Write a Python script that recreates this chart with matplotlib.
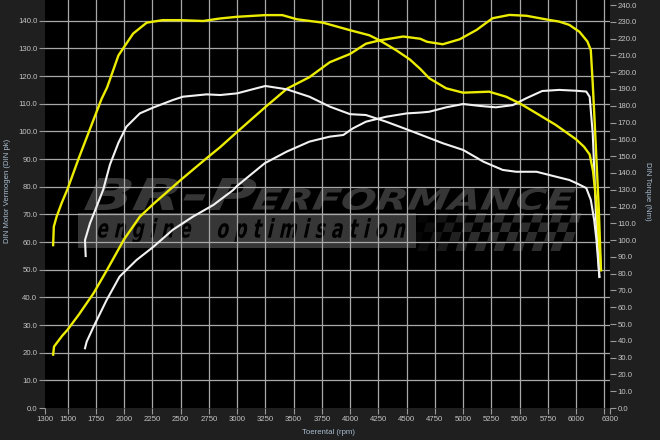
import numpy as np
import matplotlib
matplotlib.use('Agg')
import matplotlib.pyplot as plt
from matplotlib.textpath import TextPath
from matplotlib.patches import PathPatch, Rectangle, Polygon
from matplotlib.font_manager import FontProperties
from matplotlib.transforms import Affine2D

# ---------------- data ----------------
tuned_power_rpm = [1372, 1380, 1450, 1500, 1600, 1730, 1850, 2000, 2140, 2260, 2400, 2500,
                   2730, 2850, 3000, 3250, 3440, 3640, 3820, 4000, 4140, 4260, 4470, 4620,
                   4680, 4820, 4970, 5120, 5260, 5410, 5560, 5760, 5850, 5940, 6030, 6100,
                   6130, 6147, 6162, 6183, 6200, 6220]
tuned_power_pk = [19.3, 22.2, 26.0, 28.3, 33.8, 41.5, 50.0, 61.0, 69.2, 73.8, 78.8, 82.4,
                  90.3, 94.3, 99.8, 108.8, 115.4, 119.6, 125.0, 128.0, 131.7, 132.9, 134.3, 133.5,
                  132.4, 131.5, 133.3, 136.7, 140.9, 142.1, 141.8, 140.3, 139.7, 138.5, 136.0, 132.5,
                  129.4, 117.4, 105.3, 87.2, 72.8, 50.0]

tuned_torque_rpm = [1372, 1378, 1403, 1447, 1500, 1600, 1720, 1800, 1850, 1950, 2000, 2080,
                    2200, 2340, 2500, 2700, 2850, 3000, 3250, 3400, 3530, 3760, 4000, 4170,
                    4260, 4410, 4530, 4620, 4700, 4850, 5000, 5230, 5380, 5500, 5650, 5820,
                    6000, 6070, 6120, 6150, 6180, 6200, 6220]
tuned_torque_nm = [97, 108, 114, 122, 130.5, 149, 170, 184, 191, 210, 215, 223,
                   229.5, 231, 231, 230.5, 232, 233, 234, 234, 231.5, 229.5, 225, 222,
                   219, 213, 207.5, 202, 196.4, 190.4, 187.8, 188.4, 185.4, 181.5, 175.5, 168.6,
                   160, 155.6, 151, 141, 122, 102, 82]

stock_power_rpm = [1654, 1669, 1730, 1845, 1960, 2110, 2260, 2430, 2610, 2790, 2965, 3000,
                   3245, 3440, 3640, 3820, 3940, 4025, 4140, 4320, 4500, 4620, 4700, 4850,
                   5000, 5150, 5290, 5440, 5560, 5700, 5850, 6000, 6090, 6120, 6147, 6162,
                   6177, 6206]
stock_power_pk = [21.6, 24.0, 29.4, 39.0, 47.5, 53.5, 58.3, 64.4, 69.2, 73.4, 78.8, 80.3,
                  88.5, 92.7, 96.3, 98.1, 98.7, 101.1, 103.5, 105.3, 106.5, 106.8, 107.1, 108.7,
                  109.9, 109.2, 108.7, 109.5, 112.0, 114.6, 115.0, 114.7, 114.4, 112.5, 99.3, 84.9,
                  68.0, 47.5]

stock_torque_rpm = [1660, 1654, 1698, 1757, 1815, 1875, 1950, 2020, 2140, 2260, 2430, 2520,
                    2730, 2850, 3000, 3250, 3440, 3640, 3820, 4000, 4140, 4320, 4500, 4670,
                    4820, 5000, 5180, 5350, 5470, 5650, 5820, 5940, 6000, 6090, 6130, 6160,
                    6180, 6206]
stock_torque_nm = [90.5, 100, 110, 120, 130, 145, 158, 167.5, 175.5, 179, 183.4, 185.4,
                   186.8, 186.4, 187.4, 191.8, 189.8, 185.4, 179.5, 175, 174.5, 170.5, 166, 161.6,
                   157.7, 153.7, 146.7, 141.8, 140.7, 140.7, 137.8, 135.8, 134, 131, 124, 112,
                   100, 78]

x_ticks = [1300, 1500, 1750, 2000, 2250, 2500, 2750, 3000, 3250, 3500, 3750, 4000,
           4250, 4500, 4750, 5000, 5250, 5500, 5750, 6000, 6250, 6300]
x_tick_labels = ['1300', '1500', '1750', '2000', '2250', '2500', '2750', '3000', '3250',
                 '3500', '3750', '4000', '4250', '4500', '4750', '5000', '5250', '5500',
                 '5750', '6000', '', '6300']
power_ticks = list(range(0, 150, 10))
torque_ticks = list(range(0, 250, 10))

x_label = 'Toerental (rpm)'
left_label = 'DIN Motor Vermogen (DIN pk)'
right_label = 'DIN Torque (Nm)'

# ---------------- style ----------------
plt.rcParams['font.family'] = ['Liberation Sans', 'DejaVu Sans']
W, H = 660, 440
BG = '#1f1f1f'
YELLOW = '#ecec00'
WHITE = '#f2f2f2'
GRID = '#a8a8a8'
TICKLBL = '#c4c4c4'
AXLBL = '#a9bdd1'
WM = '#363636'

fig = plt.figure(figsize=(W / 100, H / 100), dpi=100, facecolor=BG)
ax = fig.add_axes([45 / W, 1 - 408 / H, 565 / W, 408 / H])
ax.set_facecolor('black')
ax2 = ax.twinx()

px = Affine2D().scale(1 / W, 1 / H) + fig.transFigure  # pixel coords, y up


def path_text(s, x0, x1, ytop, ybot, color, z, weight='bold', style='italic', skew=0):
    tp = TextPath((0, 0), s, size=10,
                  prop=FontProperties(family='DejaVu Sans', weight=weight, style=style))
    ext = tp.get_extents()
    sx = (x1 - x0) / ext.width
    sy = (ybot - ytop) / ext.height
    tr = (Affine2D().translate(-ext.x0, -ext.y0).scale(sx, sy).skew_deg(skew, 0)
          .translate(x0, H - ybot) + px)
    ax.add_patch(PathPatch(tp, transform=tr, fc=color, ec='none', zorder=z))


# watermark: band, logo, checkered flag
ax.add_patch(Rectangle((78, H - 248), 338, 35, transform=px, fc='#363636', ec='none', zorder=0.1))
path_text('BR-P', 84, 252, 178, 210, WM, 0.2, skew=10)
path_text('ERFORMANCE', 252, 572, 188, 210, WM, 0.2, skew=10)
path_text('e n g i n e', 97, 190, 218, 243, 'black', 0.3, skew=5)
path_text('o p t i m i s a t i o n', 217, 404, 218, 243, 'black', 0.3, skew=5)
sq = 9.5
for r in range(4):
    for c in range(17):
        if (r + c) % 2:
            continue
        x0 = 420 + c * sq - r * 3
        y0 = 213 + r * sq
        frac = min(0.85, (c + 1) / 8.0)
        poly = [(x0, H - y0), (x0 + sq, H - y0), (x0 + sq - 3, H - y0 - sq), (x0 - 3, H - y0 - sq)]
        ax.add_patch(Polygon(poly, closed=True, transform=px, fc=WM, ec='none',
                             alpha=frac, zorder=0.1))

# curves
ax.plot(tuned_power_rpm, tuned_power_pk, color=YELLOW, lw=1.7, zorder=3)
ax.plot(stock_power_rpm, stock_power_pk, color=WHITE, lw=1.5, zorder=3)
ax2.plot(tuned_torque_rpm, tuned_torque_nm, color=YELLOW, lw=1.7, zorder=3)
ax2.plot(stock_torque_rpm, stock_torque_nm, color=WHITE, lw=1.5, zorder=3)

# axes
ax.set_xlim(1300, 6300)
ax.set_ylim(0, 147.5)
ax2.set_ylim(0, 243)
ax.set_xticks(x_ticks)
ax.set_xticklabels(x_tick_labels)
ax.set_yticks(power_ticks)
ax.set_yticklabels([f'{v:.1f}' for v in power_ticks])
ax2.set_yticks(torque_ticks)
ax2.set_yticklabels([f'{v:.1f}' for v in torque_ticks])
for a in (ax, ax2):
    for s in a.spines.values():
        s.set_visible(False)
    a.tick_params(colors='#9a9a9a', labelcolor=TICKLBL, labelsize=5.6, length=4,
                  width=0.8, pad=1.5)
ax.set_axisbelow(True)
ax.grid(True, color=GRID, lw=0.9)
xt = ax.xaxis.get_major_ticks()
xt[0].gridline.set_visible(False)
xt[-1].gridline.set_visible(False)
ax.yaxis.get_major_ticks()[0].gridline.set_visible(False)

fig.text(8 / W, 1 - 191 / H, left_label, rotation=90, ha='center', va='center',
         color=AXLBL, fontsize=5.6)
fig.text(648 / W, 1 - 191 / H, right_label, rotation=270, ha='center', va='center',
         color=AXLBL, fontsize=5.6)
fig.text(328 / W, 1 - 432 / H, x_label, ha='center', va='center', color=AXLBL, fontsize=5.6)

fig.savefig('out.png', dpi=100, facecolor=BG)
